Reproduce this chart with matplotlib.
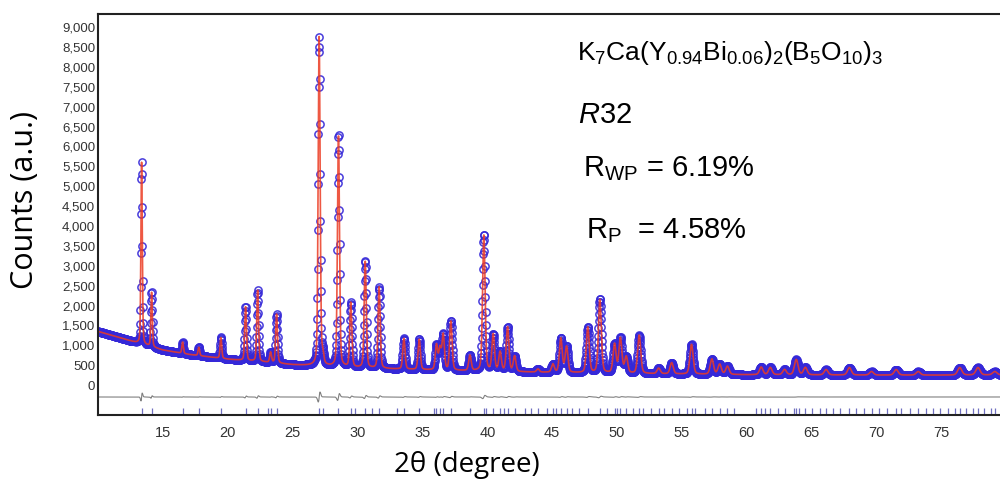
import numpy as np
import matplotlib
matplotlib.use("Agg")
import matplotlib.pyplot as plt
from matplotlib.ticker import FuncFormatter

# background anchor points (2theta, counts)
bg_x = [10, 12, 13, 15, 17, 20, 23, 25, 28, 30, 35, 40, 45, 50, 55, 60, 65, 70, 75, 80]
bg_y = [1350, 1160, 1060, 880, 770, 650, 570, 510, 460, 430, 380, 345, 315, 295, 275, 260, 255, 250, 250, 255]

peak_pos = [13.36, 14.13, 16.52, 17.77, 19.47, 21.37, 22.30, 23.30, 23.76, 27.04,
            27.32, 28.53, 29.48, 30.59, 31.66, 33.57, 34.75, 36.08, 36.35, 36.60,
            37.19, 38.66, 39.73, 40.45, 40.98, 41.56, 42.10, 43.90, 45.05, 45.66,
            46.10, 47.74, 48.67, 49.80, 50.25, 50.70, 51.70, 53.20, 54.20, 55.73,
            57.30, 57.90, 58.50, 61.10, 61.80, 62.90, 63.80, 64.50, 66.10, 67.90,
            69.60, 71.50, 73.20, 76.40, 77.80, 79.10]
peak_top = [5600, 2350, 1080, 950, 1200, 1980, 2380, 820, 1780, 8750,
            700, 6300, 2060, 3120, 2460, 1170, 1150, 1000, 900, 1250,
            1600, 740, 3780, 1260, 820, 1450, 720, 400, 520, 1170,
            960, 1450, 2150, 1020, 1170, 700, 1250, 420, 560, 1020,
            650, 520, 470, 450, 440, 390, 640, 440, 390, 440,
            340, 390, 340, 440, 440, 340]

# reflection positions (tick marks)
hkl_pos = [13.36, 14.13, 16.52, 17.77, 19.47, 21.37, 22.30, 23.10, 23.30, 23.76,
           27.04, 27.35, 28.53, 29.48, 29.80, 30.59, 31.10, 31.66, 33.00, 33.57,
           34.75, 35.90, 36.08, 36.35, 36.60, 37.19, 38.66, 39.73, 39.90, 40.45,
           40.98, 41.30, 41.56, 42.10, 42.90, 43.40, 43.90, 44.60, 45.05, 45.30,
           45.66, 46.10, 46.50, 47.10, 47.74, 48.67, 49.20, 49.80, 50.00, 50.25,
           50.70, 51.20, 51.70, 52.00, 52.60, 53.20, 53.60, 54.20, 54.80, 55.40,
           55.73, 56.00, 56.80, 57.30, 57.90, 58.50, 59.00, 60.70, 61.10, 61.40,
           61.80, 62.40, 62.90, 63.60, 63.80, 64.00, 64.50, 65.00, 65.60, 66.10,
           66.60, 67.20, 67.90, 68.40, 69.00, 69.60, 70.20, 70.80, 71.50, 71.90,
           72.60, 73.20, 73.80, 74.30, 74.90, 75.50, 76.00, 76.40, 76.90, 77.40,
           77.80, 78.30, 78.80, 79.10]

x = np.arange(10.0, 80.0, 0.02)
bg = np.interp(x, bg_x, bg_y)


def profile(shift):
    y = bg.copy()
    for p, top in zip(peak_pos, peak_top):
        h = top - np.interp(p, bg_x, bg_y)
        w = 0.11 + 0.004 * (p - 10)
        d = (x - p - shift) / w
        y += h * (0.7 * np.exp(-4 * np.log(2) * d ** 2) + 0.3 / (1 + 4 * d ** 2))
    return y


calc = profile(0.0)
obs = profile(0.002)
diff = obs - calc - 300

plt.rcParams['mathtext.fontset'] = 'custom'
plt.rcParams['mathtext.rm'] = 'Liberation Sans'
plt.rcParams['mathtext.it'] = 'Liberation Sans:italic'
plt.rcParams['font.family'] = ['Liberation Sans', 'DejaVu Sans']

fig = plt.figure(figsize=(10, 4.86), dpi=100)
ax = fig.add_axes([0.098, 0.146, 0.902, 0.825])

ax.plot(x, obs, 'o', mfc='none', mec='#3528d8', ms=5.2, mew=1.1, alpha=0.9)
ax.plot(x, calc, color='#ec3b22', lw=1.2, alpha=0.85)
ax.plot(x, diff, color='#808080', lw=0.8)
ax.plot(hkl_pos, [-640] * len(hkl_pos), '|', color='#7070c0', ms=5, mew=0.9)

ax.set_xlim(10, 79.5)
ax.set_ylim(-754, 9330)
ax.set_xticks(range(15, 80, 5))
ax.set_yticks(range(0, 9001, 500))
ax.yaxis.set_major_formatter(FuncFormatter(lambda v, _: f"{int(v):,}"))
ax.tick_params(axis='y', length=0, pad=2, labelsize=9.5, labelcolor='#333333')
ax.tick_params(axis='x', length=0, pad=8, labelsize=10.5, labelcolor='#333333')
for s in ['left', 'top', 'bottom']:
    ax.spines[s].set_linewidth(1.5)
    ax.spines[s].set_color('#222222')
ax.spines['right'].set_visible(False)

fig.text(0.025, 1 - 200 / 486, 'Counts (a.u.)', family='Open Sans', fontsize=22,
         rotation=90, ha='center', va='center')
fig.text(0.467, 1 - 465 / 486, '2θ (degree)', family='Open Sans', fontsize=20,
         ha='center', va='center')

fig.text(0.577, 1 - 60 / 486,
         r'$\mathregular{K_7Ca(Y_{0.94}Bi_{0.06})_2(B_5O_{10})_3}$',
         fontsize=19, va='baseline')
fig.text(0.578, 1 - 123 / 486, r'$\mathit{R}$32', fontsize=21, va='baseline')
fig.text(0.583, 1 - 176 / 486, r'R$_{\mathregular{WP}}$ = 6.19%', fontsize=21,
         va='baseline')
fig.text(0.586, 1 - 238 / 486, r'R$_{\mathregular{P}}$  = 4.58%', fontsize=21,
         va='baseline')

fig.savefig('out.png', dpi=100)
